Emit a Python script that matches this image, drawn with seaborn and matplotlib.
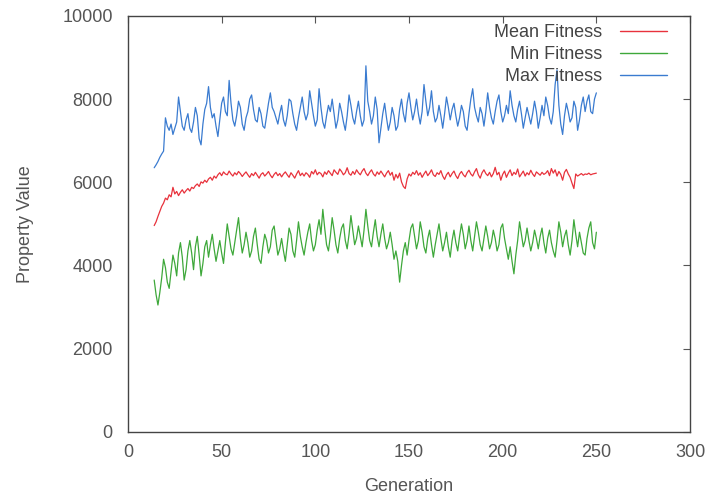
import numpy as np
import pandas as pd
import seaborn as sns
import matplotlib.pyplot as plt

# Data -----

start_gen = 14

mean_fitness = [
    4960, 5050, 5180, 5300, 5420, 5500, 5620, 5580, 5700, 5650,
    5880, 5720, 5780, 5680, 5760, 5820, 5740, 5800, 5850, 5790,
    5880, 5850, 5920, 5960, 5900, 6010, 5980, 6050, 6000, 6080,
    6120, 6050, 6150, 6100, 6180, 6230, 6160, 6250, 6200, 6180,
    6270, 6200, 6150, 6230, 6180, 6260, 6210, 6140, 6200, 6250,
    6180, 6120, 6210, 6160, 6240, 6170, 6100, 6190, 6230, 6150,
    6200, 6260, 6170, 6110, 6190, 6240, 6160, 6210, 6130, 6200,
    6250, 6180, 6120, 6230, 6170, 6100, 6200, 6280, 6160, 6220,
    6150, 6230, 6190, 6120, 6260, 6200, 6300, 6180, 6240, 6210,
    6130, 6250, 6190, 6280, 6220, 6160, 6300, 6240, 6190, 6320,
    6260, 6180, 6230, 6350, 6210, 6170, 6260, 6190, 6300, 6230,
    6180, 6270, 6330, 6220, 6160, 6240, 6300, 6200, 6150, 6250,
    6190, 6270, 6200, 6130, 6220, 6280, 6170, 6240, 6050, 6190,
    6100, 6220, 6010, 5900, 5850, 6080, 6200, 6150, 6240, 6190,
    6280, 6170, 6230, 6120, 6200, 6270, 6160, 6220, 6300, 6180,
    6140, 6230, 6190, 6280, 6150, 6070, 6180, 6240, 6130, 6210,
    6270, 6160, 6090, 6200, 6260, 6180, 6130, 6230, 6290, 6200,
    6150, 6250, 6330, 6180, 6100, 6230, 6300, 6210, 6160, 6240,
    6130, 6210, 6360, 6180, 6240, 6050, 6190, 6270, 6120, 6220,
    6300, 6160, 6240, 6190, 6320, 6130, 6200, 6270, 6150, 6230,
    6180, 6290, 6200, 6140, 6250, 6210, 6170, 6240, 6190, 6220,
    6280, 6160, 6330, 6220, 6300, 6150, 6260, 6190, 6050, 6240,
    6310, 6200, 6120, 5980, 5850, 6200, 6150, 6180, 6210, 6170,
    6200, 6190, 6220, 6180, 6200, 6210, 6220,
]

min_fitness = [
    3650, 3300, 3050, 3350, 3700, 4150, 3950, 3600, 3450, 3850,
    4250, 4050, 3750, 4300, 4550, 4200, 3650, 3900, 4350, 4600,
    4300, 3900, 4450, 4700, 4250, 3750, 4050, 4450, 4600, 4200,
    4500, 4750, 4400, 4100, 4350, 4600, 4300, 4050, 4550, 5000,
    4700, 4400, 4250, 4550, 4850, 5150, 4650, 4300, 4500, 4800,
    4550, 4200, 4350, 4700, 4900, 4500, 4150, 4050, 4450, 4750,
    4600, 4300, 4450, 4850, 4950, 4600, 4250, 4400, 4650, 4350,
    4100, 4500, 4900, 4750, 4350, 4200, 4600, 5050, 4700, 4450,
    4250, 4550, 4800, 5000, 4600, 4350, 4500, 4850, 5100, 4750,
    5350, 4900, 4500, 4350, 4700, 5150, 4850, 4500, 4300, 4650,
    4900, 5000, 4600, 4400, 4750, 5200, 4850, 4500, 4650, 4950,
    4700, 4450, 4850, 5350, 4950, 4600, 4450, 4800, 5100, 4700,
    4450, 4750, 5000, 4650, 4400, 4550, 4800, 4500, 4150, 4350,
    4100, 3600, 4000, 4350, 4550, 4250, 4600, 4900, 5000, 4700,
    4400, 4600, 5050, 4800, 4450, 4300, 4650, 4850, 4500, 4200,
    4500, 4750, 5000, 4650, 4350, 4550, 4800, 4450, 4200, 4600,
    4850, 4550, 4350, 4700, 5000, 4750, 4400, 4600, 4950, 4600,
    4350, 4700, 5050, 4800, 4500, 4350, 4650, 4950, 4700, 4400,
    4550, 4850, 4650, 4350, 4500, 4900, 5000, 4650, 4400, 4150,
    4450, 4100, 3800, 4250, 4600, 5050, 4750, 4450, 4600, 4900,
    4600, 4350, 4550, 4850, 4650, 4400, 4700, 4900, 4550, 4300,
    4650, 4850, 4550, 4350, 4200, 4600, 5050, 4800, 4450, 4700,
    4850, 4500, 4250, 4600, 5100, 4750, 4450, 4800, 4550, 4300,
    4250, 4650, 4900, 5050, 4550, 4400, 4800,
]

max_fitness = [
    6350, 6420, 6500, 6600, 6680, 6750, 7550, 7350, 7250, 7400,
    7150, 7300, 7450, 8050, 7700, 7350, 7250, 7500, 7650, 7300,
    7200, 7450, 7800, 7600, 7050, 6900, 7400, 7750, 7900, 8300,
    7800, 7550, 7650, 7350, 7100, 7500, 7900, 8050, 7700, 7600,
    8450, 7900, 7500, 7350, 7600, 7950, 7800, 7400, 7250, 7550,
    7700, 8000, 8100, 7750, 7500, 7450, 7800, 7650, 7350, 7300,
    7600, 7900, 8150, 7800, 7700, 7550, 7400, 7650, 7850, 7500,
    7350, 7600, 8000, 7950, 7650, 7400, 7250, 7550, 7800, 8050,
    7700, 7500, 7650, 8200, 7900, 7600, 7350, 7500, 8250, 7800,
    7450, 7300, 7600, 7850, 7700, 8000, 7650, 7300, 7500, 7900,
    7700, 7450, 7250, 7600, 8100, 7850, 7550, 7400, 7700, 7950,
    7600, 7350, 7500, 8800, 7950, 7700, 7400, 7600, 8050, 7750,
    6950, 7300, 7650, 7900, 7550, 7250, 7450, 7800, 7600, 7250,
    7350, 7750, 8000, 7650, 7450, 7900, 8150, 7800, 7500, 7700,
    8000, 7650, 7400, 7700, 8350, 7950, 7600, 7800, 8200, 7700,
    7450, 7550, 7850, 7600, 7300, 7650, 8050, 7800, 7500, 7750,
    7900, 7600, 7350, 7550, 7850, 7700, 7350, 7250, 7650, 8000,
    8250, 7800, 7600, 7450, 7800, 7650, 7350, 7700, 8150, 7800,
    7550, 7400, 7700, 7950, 8100, 7700, 7450, 7600, 7850, 7650,
    8200, 7850, 7600, 7450, 7750, 7950, 7650, 7300, 7550, 7800,
    7600, 7400, 7650, 7950, 7700, 7300, 7550, 7850, 7600, 8050,
    7850, 7550, 7400, 7700, 8350, 8700, 7850, 7400, 7150, 7600,
    7900, 7700, 7450, 7550, 7950, 7800, 7250, 7500, 7850, 8050,
    7700, 7950, 8100, 7700, 7650, 8000, 8150,
]

series_names = ["Mean Fitness", "Min Fitness", "Max Fitness"]
series_colors = ["#e8323c", "#3ea83a", "#3a7bd0"]

x_ticks = [0, 50, 100, 150, 200, 250, 300]
y_ticks = [0, 2000, 4000, 6000, 8000, 10000]

# Build long table -----

frames = []
for name, values in zip(series_names, [mean_fitness, min_fitness, max_fitness]):
    frames.append(pd.DataFrame({
        "Generation": np.arange(start_gen, start_gen + len(values)),
        "Value": values,
        "Series": name,
    }))
data = pd.concat(frames, ignore_index=True)

# Plot -----

sns.set_style("white")
plt.rcParams["font.family"] = ["Liberation Sans", "DejaVu Sans"]

fig = plt.figure(figsize=(7.07, 4.97), dpi=100)
ax = fig.add_axes([0.181, 0.131, 0.795, 0.837])

sns.lineplot(
    data=data, x="Generation", y="Value", hue="Series",
    hue_order=series_names, palette=series_colors,
    linewidth=0.9, ax=ax, estimator=None, sort=False,
)

ax.set_xlim(0, 300)
ax.set_ylim(0, 10000)
ax.set_xticks(x_ticks)
ax.set_yticks(y_ticks)
ax.tick_params(direction="in", top=True, right=True, length=5, width=0.8,
               colors="#555555", labelcolor="#555555", labelsize=13)
ax.tick_params(axis="y", pad=11)
ax.tick_params(axis="x", pad=9)
for spine in ax.spines.values():
    spine.set_color("#444444")
    spine.set_linewidth(1.0)

ax.set_xlabel("Generation", fontsize=13, color="#555555", labelpad=12)
ax.set_ylabel("Property Value", fontsize=13, color="#555555", labelpad=20)

leg = ax.legend(
    loc="upper right", bbox_to_anchor=(0.959, 0.98), frameon=False,
    markerfirst=False, fontsize=13, handlelength=2.6, handletextpad=1.0,
    labelspacing=0.27, borderaxespad=0, borderpad=0,
)
for text in leg.get_texts():
    text.set_color("#444444")
for line in leg.get_lines():
    line.set_linewidth(1.0)

fig.savefig("out.png", dpi=100)
